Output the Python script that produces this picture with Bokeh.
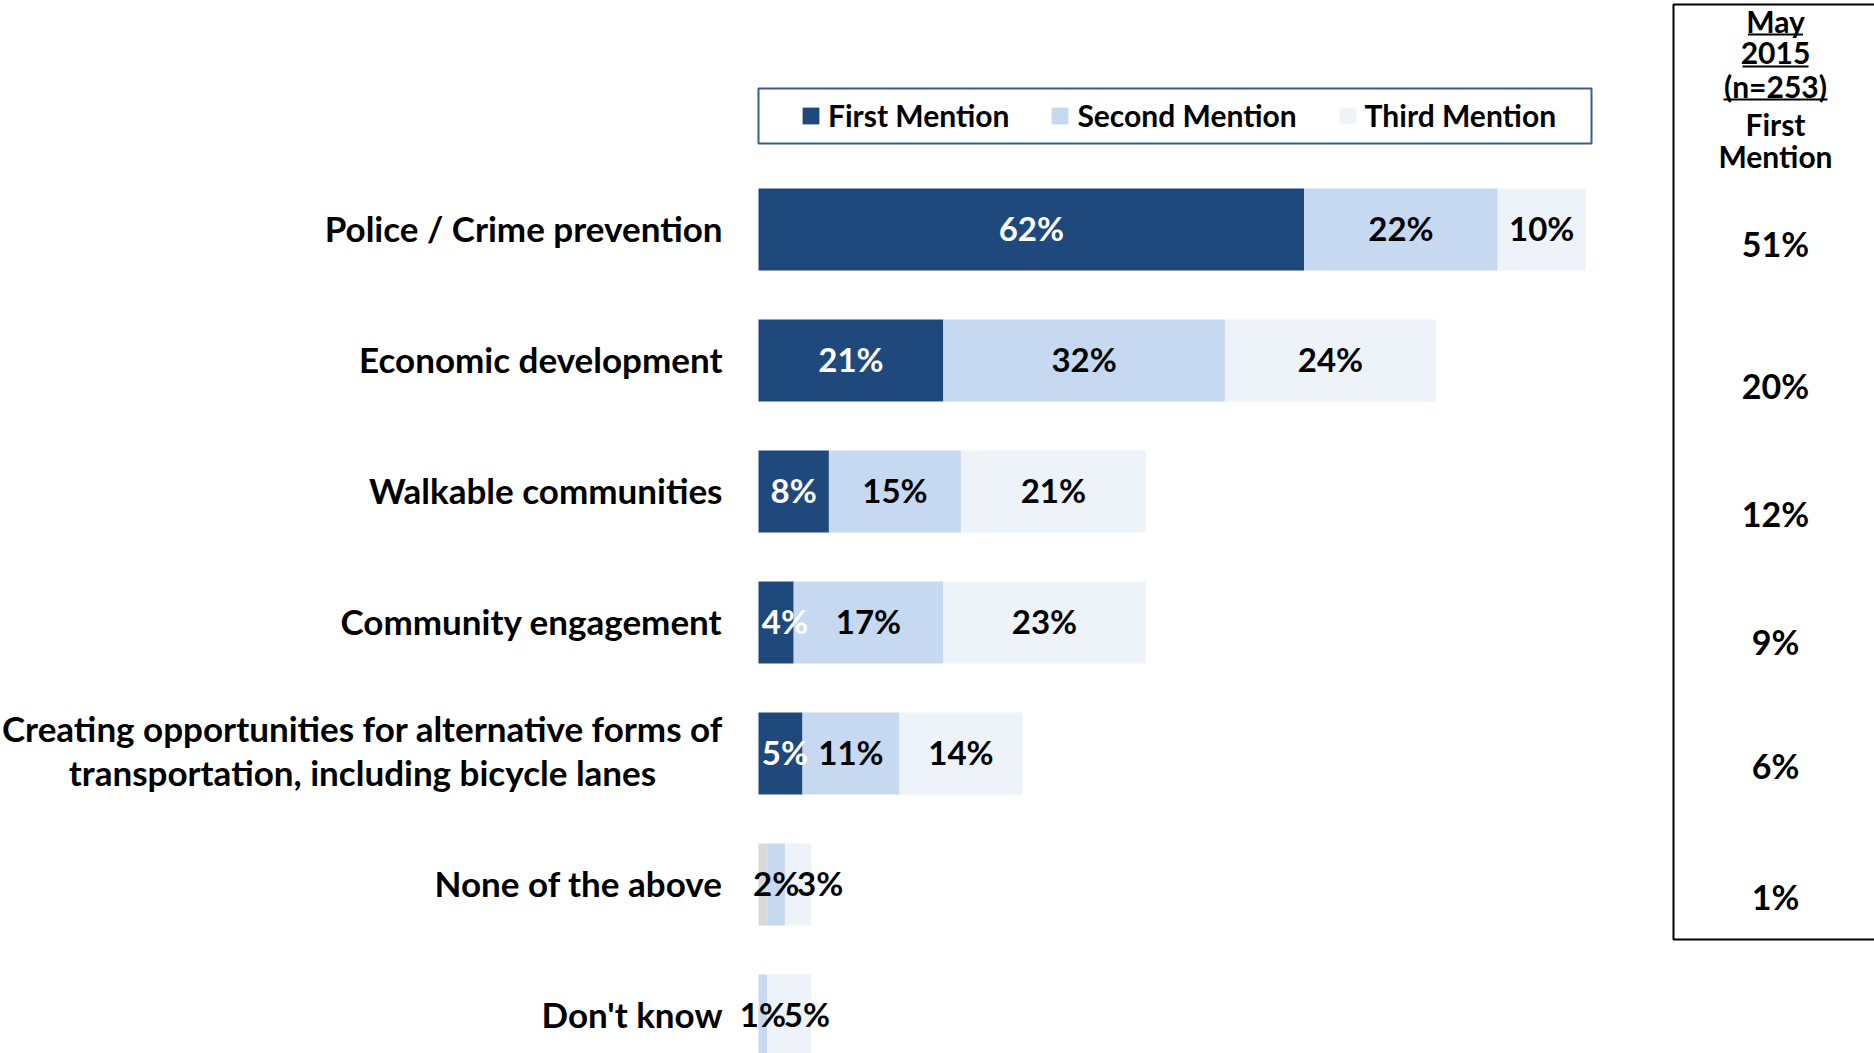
from bokeh.plotting import figure
from bokeh.models import Range1d, Legend, LegendItem, BoxAnnotation, ColumnDataSource
from bokeh.core.properties import value
from bokeh.embed import file_html
from bokeh.resources import INLINE

# ---------------- data ----------------
categories = [
    "Police / Crime prevention",
    "Economic development",
    "Walkable communities",
    "Community engagement",
    "Creating opportunities for alternative forms of\ntransportation, including bicycle lanes",
    "None of the above",
    "Don't know",
]
first_mention = [62, 21, 8, 4, 5, 1, 0]
second_mention = [22, 32, 15, 17, 11, 2, 1]
third_mention = [10, 24, 21, 23, 14, 3, 5]
first_labelled = [True, True, True, True, True, False, False]
series_names = ["First Mention", "Second Mention", "Third Mention"]

may2015_header = ["May", "2015", "(n=253)"]
may2015_sub = ["First", "Mention"]
may2015_first = [51, 20, 12, 9, 6, 1]

# ---------------- styling / layout ----------------
NAVY = "#1F497D"
LIGHT = "#C6D9F1"
PALE = "#EDF3F8"
GREY = "#D9D9D9"
FONT = "Lato"

W, H = 1874, 1053
PAGE = 0
X0 = 758.0          # page px of 0 %
PX_PER_PCT = 8.8
ROW0 = 229.0        # page px of first row centre
ROW_STEP = 131.0
TEXT_DY = -1.5 / ROW_STEP   # small upward nudge for text baselines


def xd(px):
    return (px - X0) / PX_PER_PCT


def yd(py):
    return (py - ROW0) / ROW_STEP


p = figure(width=W, height=H,
           x_range=Range1d(xd(PAGE), xd(PAGE + W)),
           y_range=Range1d(yd(PAGE + H), yd(PAGE)),
           x_axis_location=None, y_axis_location=None,
           toolbar_location=None, output_backend="svg",
           min_border=0, outline_line_color=None,
           background_fill_color="white", border_fill_color="white")
p.grid.visible = False

n = len(categories)
rows = list(range(n))
r1 = [a for a in first_mention]
r2 = [a + b for a, b in zip(first_mention, second_mention)]
r3 = [a + b + c for a, b, c in zip(first_mention, second_mention, third_mention)]
first_colors = [NAVY if lab else GREY for lab in first_labelled]

src = ColumnDataSource(dict(y=rows, l1=[0] * n, r1=r1, r2=r2, r3=r3, c1=first_colors))
BAR_H = 0.626
rend1 = p.hbar(y="y", left="l1", right="r1", height=BAR_H, fill_color="c1", line_color=None, source=src)
rend2 = p.hbar(y="y", left="r1", right="r2", height=BAR_H, fill_color=LIGHT, line_color=None, source=src)
rend3 = p.hbar(y="y", left="r2", right="r3", height=BAR_H, fill_color=PALE, line_color=None, source=src)

# ---------------- segment labels ----------------
MIN_GAP = 5.0      # % units between label centres for tiny segments
MIN_FIRST = 3.0
lx, ly, lt, lc = [], [], [], []
for i in rows:
    prev = None
    segs = [(0, r1[i], first_mention[i], first_labelled[i], "white"),
            (r1[i], r2[i], second_mention[i], True, "black"),
            (r2[i], r3[i], third_mention[i], True, "black")]
    for k, (a, b, v, show, col) in enumerate(segs):
        if not show or v <= 0:
            continue
        c = (a + b) / 2.0
        if k == 0:
            c = max(c, MIN_FIRST)
        if prev is not None and c - prev < MIN_GAP:
            c = prev + MIN_GAP
        prev = c
        lx.append(c); ly.append(i + TEXT_DY); lt.append(f"{v}%"); lc.append(col)

p.text(x="x", y="y", text="t", text_color="c",
       source=ColumnDataSource(dict(x=lx, y=ly, t=lt, c=lc)),
       text_font=value(FONT), text_font_style="bold", text_font_size="33px",
       text_align="center", text_baseline="middle")

# ---------------- category labels ----------------
single = [(c, i) for i, c in enumerate(categories) if "\n" not in c]
multi = [(c, i) for i, c in enumerate(categories) if "\n" in c]
p.text(x=[xd(722)] * len(single), y=[i + TEXT_DY for _, i in single], text=[c for c, _ in single],
       text_font=value(FONT), text_font_style="bold", text_font_size="35px",
       text_align="right", text_baseline="middle", text_color="black")
p.text(x=[xd(362)] * len(multi), y=[i - 3.5 / ROW_STEP for _, i in multi], text=[c for c, _ in multi],
       text_font=value(FONT), text_font_style="bold", text_font_size="35px",
       text_align="center", text_baseline="middle", text_color="black",
       text_line_height=1.07)

# ---------------- legend ----------------
legend_box = BoxAnnotation(left=xd(758), right=xd(1591), top=yd(88), bottom=yd(143),
                           fill_alpha=0, line_color="#385D8A", line_alpha=1.0, line_width=2)
p.add_layout(legend_box)
legend = Legend(items=[LegendItem(label=series_names[0], renderers=[rend1], index=0),
                       LegendItem(label=series_names[1], renderers=[rend2], index=0),
                       LegendItem(label=series_names[2], renderers=[rend3], index=0)],
                location=(800, 1053 - 133), orientation="horizontal",
                glyph_width=21, glyph_height=21, label_standoff=7, spacing=40,
                padding=0, margin=0,
                border_line_alpha=0, background_fill_alpha=0,
                label_text_font=FONT, label_text_font_style="bold",
                label_text_font_size="30px", label_text_color="black")
p.add_layout(legend)

# ---------------- May 2015 column ----------------
p.quad(left=[xd(1673)], right=[xd(1930)], top=[yd(4)], bottom=[yd(939)],
       fill_alpha=0, line_color="black", line_width=2)
COL_X = xd(1775)
head_py = [20, 52, 85]
sub_py = [123, 155]
val_py = [243, 385, 513, 641, 765, 896]
underline_w = [55, 66, 104]

p.text(x=[COL_X] * len(may2015_header), y=[yd(v) for v in head_py], text=may2015_header,
       text_font=value(FONT), text_font_style="bold", text_font_size="30px",
       text_align="center", text_baseline="middle", text_color="black")
p.segment(x0=[COL_X - w / 2 / PX_PER_PCT for w in underline_w], x1=[COL_X + w / 2 / PX_PER_PCT for w in underline_w],
          y0=[yd(v + 14) for v in head_py], y1=[yd(v + 14) for v in head_py],
          line_color="black", line_width=2)
p.text(x=[COL_X] * len(may2015_sub), y=[yd(v) for v in sub_py], text=may2015_sub,
       text_font=value(FONT), text_font_style="bold", text_font_size="30px",
       text_align="center", text_baseline="middle", text_color="black")
p.text(x=[COL_X] * len(may2015_first), y=[yd(v) for v in val_py], text=[f"{v}%" for v in may2015_first],
       text_font=value(FONT), text_font_style="bold", text_font_size="34px",
       text_align="center", text_baseline="middle", text_color="black")

open("out.html", "w").write(file_html(p, INLINE))
